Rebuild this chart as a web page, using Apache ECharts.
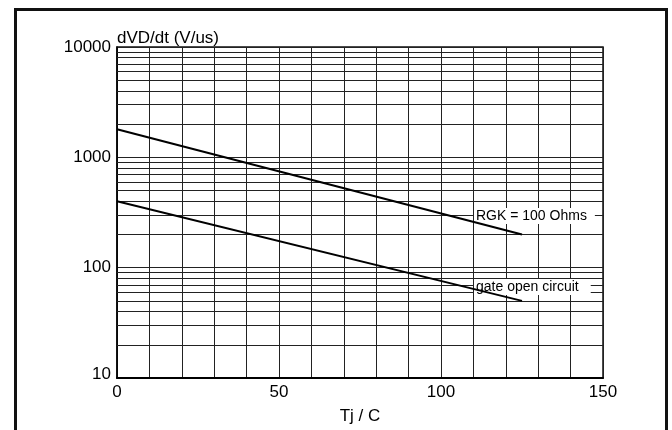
<!DOCTYPE html>
<html>
<head>
<meta charset="utf-8">
<script src="https://cdn.jsdelivr.net/npm/echarts@6/dist/echarts.min.js"></script>
<style>
  html, body { margin: 0; padding: 0; background: #fff; }
  #main { width: 672px; height: 430px; }
</style>
</head>
<body>
<div id="main"></div>
<script>
// junction temperature (C)
var tj = [0, 125];
// dVD/dt (V/us)
var rgk100 = [1800, 200];
var gateOpen = [400, 50];
// minor log grid lines
var minorLines = [20, 30, 40, 50, 60, 70, 80, 90,
  200, 300, 400, 500, 600, 700, 800, 900,
  2000, 3000, 4000, 5000, 6000, 7000, 8000, 9000];
var xLabels = [0, 50, 100, 150];

var font = 'Liberation Sans, Arial, sans-serif';
var myChart = echarts.init(document.getElementById('main'));

function pairs(ys) {
  var out = [];
  for (var i = 0; i < tj.length; i++) out.push([tj[i], ys[i]]);
  return out;
}

myChart.setOption({
  animation: false,
  grid: { left: 117, top: 47, right: 69, bottom: 40, show: true, borderColor: '#111', borderWidth: 1.5, backgroundColor: '#fff' },
  xAxis: {
    type: 'value', min: 0, max: 150, interval: 10,
    name: 'Tj / C', nameLocation: 'middle', nameGap: 30,
    nameTextStyle: { fontFamily: font, fontSize: 17, color: '#000' },
    axisLine: { show: true, lineStyle: { color: '#000', width: 2 } },
    axisTick: { show: false },
    axisLabel: {
      fontFamily: font, fontSize: 17, color: '#000', margin: 6,
      formatter: function (v) { return xLabels.indexOf(v) >= 0 ? String(v) : ''; }
    },
    splitLine: { show: true, lineStyle: { color: '#222', width: 1 } }
  },
  yAxis: {
    type: 'log', logBase: 10, min: 10, max: 10000,
    name: 'dVD/dt (V/us)', nameLocation: 'end', nameGap: 0,
    nameTextStyle: { fontFamily: font, fontSize: 17, color: '#000', align: 'left' },
    axisLine: { show: true, lineStyle: { color: '#000', width: 1.5 } },
    axisTick: { show: false },
    axisLabel: {
      fontFamily: font, fontSize: 17, color: '#000', margin: 6,
      formatter: function (v) { return v === 10 ? '{low|10}' : String(v); },
      rich: { low: { fontFamily: font, fontSize: 17, color: '#000', padding: [0, 0, 8, 0] } }
    },
    splitLine: { show: true, lineStyle: { color: '#222', width: 1 } }
  },
  series: [
    {
      type: 'line', name: 'minor grid', data: [], z: 1, silent: true,
      markLine: {
        silent: true, symbol: 'none', animation: false, label: { show: false },
        lineStyle: { color: '#222', width: 1, type: 'solid' },
        data: minorLines.map(function (v) { return { yAxis: v }; })
      }
    },
    {
      type: 'line', name: 'RGK = 100 Ohms', data: pairs(rgk100),
      symbol: 'none', lineStyle: { color: '#000', width: 2 }, z: 120
    },
    {
      type: 'line', name: 'gate open circuit', data: pairs(gateOpen),
      symbol: 'none', lineStyle: { color: '#000', width: 2 }, z: 120
    }
  ],
  graphic: [
    { type: 'rect', left: 13, top: 7, z: 100, shape: { width: 651, height: 430 },
      style: { fill: 'none', stroke: '#111', lineWidth: 3 } },
    { type: 'text', x: 474, y: 208, z: 100,
      style: { text: 'RGK = 100 Ohms', font: '14px ' + font, fill: '#000',
        backgroundColor: '#fff', padding: [1, 8, 1, 2] } },
    { type: 'text', x: 474, y: 279, z: 100,
      style: { text: 'gate open circuit', font: '14px ' + font, fill: '#000',
        backgroundColor: '#fff', padding: [1, 12, 1, 2] } }
  ]
});
</script>
</body>
</html>
